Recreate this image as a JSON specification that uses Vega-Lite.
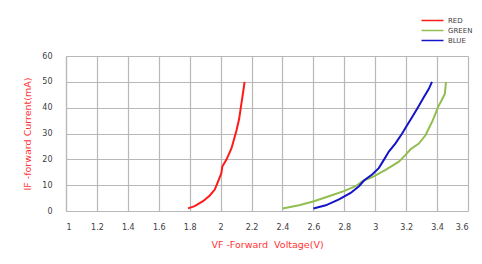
{
  "$schema": "https://vega.github.io/schema/vega-lite/v6.json",
  "width": 402,
  "height": 155,
  "autosize": {"type": "none"},
  "padding": {"left": 66, "top": 56, "right": 14, "bottom": 53},
  "background": "white",
  "data": {
    "values": [
      {"s": "RED", "v": 1.789, "i": 1},
      {"s": "RED", "v": 1.832, "i": 1.9},
      {"s": "RED", "v": 1.886, "i": 3.8},
      {"s": "RED", "v": 1.93, "i": 6},
      {"s": "RED", "v": 1.962, "i": 8.3},
      {"s": "RED", "v": 1.984, "i": 11.5},
      {"s": "RED", "v": 2.005, "i": 14.7},
      {"s": "RED", "v": 2.011, "i": 17.2},
      {"s": "RED", "v": 2.037, "i": 19.8},
      {"s": "RED", "v": 2.07, "i": 24.2},
      {"s": "RED", "v": 2.085, "i": 27.4},
      {"s": "RED", "v": 2.103, "i": 31.3},
      {"s": "RED", "v": 2.12, "i": 35.7},
      {"s": "RED", "v": 2.131, "i": 40.2},
      {"s": "RED", "v": 2.142, "i": 44.6},
      {"s": "RED", "v": 2.15, "i": 47.8},
      {"s": "RED", "v": 2.155, "i": 50},
      {"s": "GREEN", "v": 2.4, "i": 1},
      {"s": "GREEN", "v": 2.508, "i": 2.2},
      {"s": "GREEN", "v": 2.604, "i": 3.8},
      {"s": "GREEN", "v": 2.7, "i": 5.7},
      {"s": "GREEN", "v": 2.797, "i": 7.7},
      {"s": "GREEN", "v": 2.873, "i": 9.6},
      {"s": "GREEN", "v": 2.916, "i": 11.5},
      {"s": "GREEN", "v": 2.99, "i": 13.4},
      {"s": "GREEN", "v": 3.067, "i": 15.9},
      {"s": "GREEN", "v": 3.153, "i": 19.1},
      {"s": "GREEN", "v": 3.196, "i": 21.7},
      {"s": "GREEN", "v": 3.228, "i": 23.9},
      {"s": "GREEN", "v": 3.282, "i": 26.1},
      {"s": "GREEN", "v": 3.325, "i": 29.3},
      {"s": "GREEN", "v": 3.351, "i": 32.5},
      {"s": "GREEN", "v": 3.372, "i": 35.1},
      {"s": "GREEN", "v": 3.389, "i": 37.6},
      {"s": "GREEN", "v": 3.406, "i": 40.2},
      {"s": "GREEN", "v": 3.428, "i": 42.7},
      {"s": "GREEN", "v": 3.45, "i": 45.3},
      {"s": "GREEN", "v": 3.454, "i": 47.8},
      {"s": "GREEN", "v": 3.458, "i": 50},
      {"s": "BLUE", "v": 2.6, "i": 1},
      {"s": "BLUE", "v": 2.68, "i": 2.2},
      {"s": "BLUE", "v": 2.766, "i": 4.5},
      {"s": "BLUE", "v": 2.841, "i": 7},
      {"s": "BLUE", "v": 2.895, "i": 9.6},
      {"s": "BLUE", "v": 2.927, "i": 11.8},
      {"s": "BLUE", "v": 2.98, "i": 14.1},
      {"s": "BLUE", "v": 3.023, "i": 16.6},
      {"s": "BLUE", "v": 3.056, "i": 19.8},
      {"s": "BLUE", "v": 3.088, "i": 23},
      {"s": "BLUE", "v": 3.131, "i": 26.2},
      {"s": "BLUE", "v": 3.174, "i": 30},
      {"s": "BLUE", "v": 3.206, "i": 33.2},
      {"s": "BLUE", "v": 3.239, "i": 36.4},
      {"s": "BLUE", "v": 3.277, "i": 40.2},
      {"s": "BLUE", "v": 3.314, "i": 44},
      {"s": "BLUE", "v": 3.346, "i": 47.2},
      {"s": "BLUE", "v": 3.367, "i": 50}
    ]
  },
  "mark": {"type": "line", "strokeWidth": 2},
  "encoding": {
    "x": {
      "field": "v",
      "type": "quantitative",
      "scale": {"domain": [1, 3.6], "nice": false, "zero": false},
      "axis": {
        "values": [1, 1.2, 1.4, 1.6, 1.8, 2, 2.2, 2.4, 2.6, 2.8, 3, 3.2, 3.4, 3.6],
        "format": "~f",
        "title": "VF -Forward\u00a0 Voltage(V)",
        "titleColor": "#ff3333",
        "titleFont": "DejaVu Sans",
        "titleFontSize": 9.5,
        "titleFontWeight": "normal",
        "titlePadding": 8,
        "labelPadding": 12,
        "labelFont": "DejaVu Sans",
        "labelFontSize": 8,
        "labelColor": "#404040",
        "ticks": false,
        "domain": false,
        "grid": true,
        "gridColor": "#b8b8b8",
        "gridWidth": 1.2
      }
    },
    "y": {
      "field": "i",
      "type": "quantitative",
      "scale": {"domain": [0, 60], "nice": false},
      "axis": {
        "values": [0, 10, 20, 30, 40, 50, 60],
        "title": "IF -forward Current(mA)",
        "titleColor": "#ff3333",
        "titleFont": "DejaVu Sans",
        "titleFontSize": 9.5,
        "titleFontWeight": "normal",
        "titlePadding": 9,
        "labelPadding": 14,
        "labelFont": "DejaVu Sans",
        "labelFontSize": 8,
        "labelColor": "#404040",
        "ticks": false,
        "domain": true,
        "domainColor": "#b8b8b8",
        "domainWidth": 1.2,
        "grid": true,
        "gridColor": "#b8b8b8",
        "gridWidth": 1.2
      }
    },
    "color": {
      "field": "s",
      "type": "nominal",
      "scale": {"domain": ["RED", "GREEN", "BLUE"], "range": ["#ff1a1a", "#92bd50", "#1414c8"]},
      "legend": {
        "title": null,
        "orient": "none",
        "legendX": 360,
        "legendY": -42,
        "symbolType": "M-2,0H2",
        "symbolSize": 121,
        "symbolStrokeWidth": 1.5,
        "labelFont": "DejaVu Sans",
        "labelFontSize": 7,
        "labelColor": "#404040",
        "rowPadding": 0,
        "labelOffset": 9
      }
    }
  },
  "config": {"view": {"stroke": null}}
}
